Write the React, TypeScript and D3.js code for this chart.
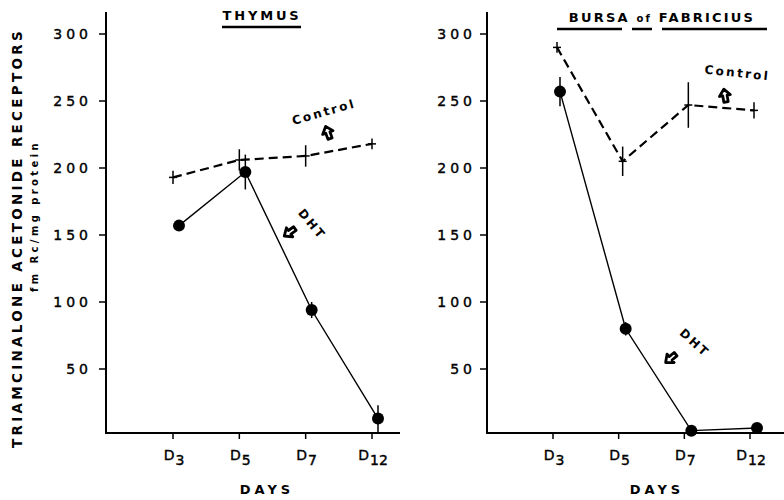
import React from "react";
import * as d3 from "d3";

const days = ["3", "5", "7", "12"];
const yTicks = [50, 100, 150, 200, 250, 300];

const thymusControl = [193, 206, 209, 218];
const thymusControlErr = [5, 8, 8, 4];
const thymusDHT = [157, 197, 94, 13];
const thymusDHTErr = [3, 13, 6, 10];

const bursaControl = [290, 205, 247, 243];
const bursaControlErr = [4, 11, 17, 6];
const bursaDHT = [257, 80, 4, 6];
const bursaDHTErr = [11, 5, 2, 2];

const W = 784;
const H = 500;
const FONT = "'DejaVu Sans', sans-serif";

const yScale = d3.scaleLinear().domain([0, 300]).range([436, 34]);

function Arrow({ x, y, rot }: { x: number; y: number; rot: number }) {
  const p = "M0,-7 L5.5,-0.5 L2.2,-0.5 L2.2,6 L-2.2,6 L-2.2,-0.5 L-5.5,-0.5 Z";
  return (
    <path
      d={p}
      transform={`translate(${x},${y}) rotate(${rot})`}
      fill="white"
      stroke="black"
      strokeWidth={2.8}
      strokeLinejoin="round"
    />
  );
}

type PanelProps = {
  axisX: number;
  axisRight: number;
  xRange: [number, number];
  control: number[];
  controlErr: number[];
  dht: number[];
  dhtErr: number[];
  ctrlOff: number;
  dhtOff: number;
  labelEnd: number;
  daysX: number;
};

function Panel(p: PanelProps) {
  const x = d3.scalePoint<string>().domain(days).range(p.xRange);
  const ctrlLine = d3
    .line<number>()
    .x((_, i) => (x(days[i]) as number) + p.ctrlOff)
    .y((d) => yScale(d));
  const dhtLine = d3
    .line<number>()
    .x((_, i) => (x(days[i]) as number) + p.dhtOff)
    .y((d) => yScale(d));
  const axisY = 433;
  return (
    <g>
      <line x1={p.axisX} y1={12} x2={p.axisX} y2={axisY + 1} stroke="black" strokeWidth={2} />
      <line x1={p.axisX - 1} y1={axisY} x2={p.axisRight} y2={axisY} stroke="black" strokeWidth={2} />
      {yTicks.map((t) => (
        <g key={t}>
          <line x1={p.axisX - 7} x2={p.axisX} y1={yScale(t)} y2={yScale(t)} stroke="black" strokeWidth={1.5} />
          <text
            x={p.labelEnd}
            y={yScale(t) + 5}
            textAnchor="end"
            fontFamily={FONT}
            fontSize={14}
            letterSpacing={4}
            fill="black"
            stroke="black"
            strokeWidth={0.4}
          >
            {t}
          </text>
        </g>
      ))}
      {days.map((d) => (
        <g key={d}>
          <line x1={x(d)} x2={x(d)} y1={axisY} y2={axisY + 6} stroke="black" strokeWidth={1.5} />
          <text
            x={(x(d) as number) + 1}
            y={460}
            textAnchor="middle"
            fontFamily={FONT}
            fontSize={14}
            fill="black"
            stroke="black"
            strokeWidth={0.4}
          >
            <tspan>D</tspan>
            <tspan dy={5} dx={1}>{d}</tspan>
          </text>
        </g>
      ))}
      <text
        x={p.daysX}
        y={494}
        textAnchor="middle"
        fontFamily={FONT}
        fontSize={13}
        fontWeight="bold"
        letterSpacing={4}
        fill="black"
      >
        DAYS
      </text>
      <path d={ctrlLine(p.control) || ""} fill="none" stroke="black" strokeWidth={2.2} strokeDasharray="9,5" />
      {p.control.map((v, i) => {
        const cx = (x(days[i]) as number) + p.ctrlOff;
        return (
          <g key={i}>
            <line x1={cx} x2={cx} y1={yScale(v + p.controlErr[i])} y2={yScale(v - p.controlErr[i])} stroke="black" strokeWidth={1.5} />
            <line x1={cx - 4} x2={cx + 4} y1={yScale(v)} y2={yScale(v)} stroke="black" strokeWidth={1.5} />
          </g>
        );
      })}
      <path d={dhtLine(p.dht) || ""} fill="none" stroke="black" strokeWidth={1.4} />
      {p.dht.map((v, i) => {
        const cx = (x(days[i]) as number) + p.dhtOff;
        return (
          <g key={i}>
            <line x1={cx} x2={cx} y1={yScale(v + p.dhtErr[i])} y2={yScale(v - p.dhtErr[i])} stroke="black" strokeWidth={1.5} />
            <circle cx={cx} cy={yScale(v)} r={6} fill="black" />
          </g>
        );
      })}
    </g>
  );
}

export default function App() {
  return (
    <svg width={W} height={H} style={{ display: "block", position: "absolute", left: 0, top: 0 }}>
      <rect width={W} height={H} fill="white" />
      <text
        transform="translate(22,238) rotate(-90)"
        textAnchor="middle"
        fontFamily={FONT}
        fontSize={13.5}
        fontWeight="bold"
        letterSpacing={3.3}
        fill="black"
      >
        TRIAMCINALONE ACETONIDE RECEPTORS
      </text>
      <text
        transform="translate(38,216) rotate(-90)"
        textAnchor="middle"
        fontFamily={FONT}
        fontSize={10}
        fontWeight="bold"
        letterSpacing={3.4}
        fill="black"
      >
        fm Rc/mg protein
      </text>

      <Panel
        axisX={106}
        axisRight={400}
        xRange={[173, 372]}
        control={thymusControl}
        controlErr={thymusControlErr}
        dht={thymusDHT}
        dhtErr={thymusDHTErr}
        ctrlOff={0}
        dhtOff={6}
        labelEnd={92}
        daysX={267}
      />
      <Panel
        axisX={487}
        axisRight={784}
        xRange={[553, 750]}
        control={bursaControl}
        controlErr={bursaControlErr}
        dht={bursaDHT}
        dhtErr={bursaDHTErr}
        ctrlOff={4}
        dhtOff={7}
        labelEnd={476}
        daysX={657}
      />

      <text x={262} y={20} textAnchor="middle" fontFamily={FONT} fontSize={13} fontWeight="bold" letterSpacing={2.8} fill="black">
        THYMUS
      </text>
      <line x1={222} x2={301} y1={27} y2={27} stroke="black" strokeWidth={2.5} />
      <text x={662} y={22} textAnchor="middle" fontFamily={FONT} fontSize={13} fontWeight="bold" letterSpacing={2.2} fill="black">
        BURSA <tspan fontSize={10}>of</tspan> FABRICIUS
      </text>
      <line x1={557} x2={622} y1={29} y2={29} stroke="black" strokeWidth={2.5} />
      <line x1={632} x2={652} y1={29} y2={29} stroke="black" strokeWidth={2.5} />
      <line x1={662} x2={767} y1={29} y2={29} stroke="black" strokeWidth={2.5} />

      <text
        transform="translate(325,116) rotate(-16)"
        textAnchor="middle"
        fontFamily={FONT}
        fontSize={12}
        fontWeight="bold"
        letterSpacing={2.3}
        fill="black"
      >
        Control
      </text>
      <Arrow x={328} y={133} rot={-20} />
      <text
        transform="translate(309,227) rotate(50)"
        textAnchor="middle"
        fontFamily={FONT}
        fontSize={12}
        fontWeight="bold"
        letterSpacing={2.5}
        fill="black"
      >
        DHT
      </text>
      <Arrow x={290} y={232} rot={-125} />

      <text
        transform="translate(737,77) rotate(6)"
        textAnchor="middle"
        fontFamily={FONT}
        fontSize={12}
        fontWeight="bold"
        letterSpacing={2.3}
        fill="black"
      >
        Control
      </text>
      <Arrow x={725} y={96} rot={-10} />
      <text
        transform="translate(692,346) rotate(42)"
        textAnchor="middle"
        fontFamily={FONT}
        fontSize={12}
        fontWeight="bold"
        letterSpacing={2.5}
        fill="black"
      >
        DHT
      </text>
      <Arrow x={671} y={358} rot={-130} />
    </svg>
  );
}
